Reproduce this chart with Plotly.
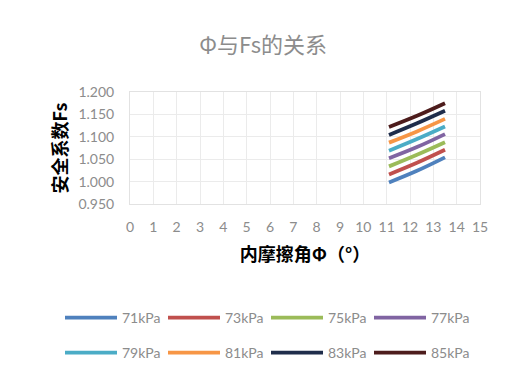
import plotly.graph_objects as go

phi = [11.1, 12.3, 13.5]
series_names = ["71kPa", "73kPa", "75kPa", "77kPa", "79kPa", "81kPa", "83kPa", "85kPa"]
fs_71 = [0.998, 1.024, 1.054]
fs_73 = [1.016, 1.042, 1.071]
fs_75 = [1.034, 1.060, 1.088]
fs_77 = [1.052, 1.077, 1.106]
fs_79 = [1.069, 1.095, 1.123]
fs_81 = [1.087, 1.112, 1.140]
fs_83 = [1.104, 1.130, 1.158]
fs_85 = [1.122, 1.147, 1.175]
series_values = [fs_71, fs_73, fs_75, fs_77, fs_79, fs_81, fs_83, fs_85]
colors = ["#4F81BD", "#C0504D", "#9BBB59", "#8064A2", "#4BACC6", "#F79646", "#1F2D4B", "#4D1C1C"]

x_ticks = list(range(0, 16))
y_ticks = [0.95, 1.0, 1.05, 1.1, 1.15, 1.2]

tick_font = dict(family="Lato, 'Noto Sans CJK SC'", size=14, color="#8C8C8C")
cjk = "'Noto Sans CJK SC', 'Noto Sans', sans-serif"

fig = go.Figure()
for i, (name, vals, c) in enumerate(zip(series_names, series_values, colors)):
    fig.add_trace(go.Scatter(
        x=phi, y=vals, name=name, mode="lines",
        line=dict(color=c, width=3.8, shape="spline"),
        legend="legend" if i < 4 else "legend2",
    ))

leg_common = dict(orientation="h", xref="paper", yref="paper", x=(60 - 130) / 350, xanchor="left",
                  yanchor="middle", entrywidth=36, entrywidthmode="pixels",
                  font=dict(family="Lato, sans-serif", size=14, color="#8C8C8C"),
                  bgcolor="rgba(0,0,0,0)", itemwidth=52)

fig.update_layout(
    width=513, height=381,
    margin=dict(l=130, r=33, t=92, b=177),
    paper_bgcolor="white", plot_bgcolor="white",
    title=dict(text="Φ与Fs的关系", x=0.513, xanchor="center", y=0.882, yanchor="middle",
               font=dict(family=cjk, size=22, color="#8C8C8C")),
    xaxis=dict(range=[0, 15], tickvals=x_ticks, ticktext=[str(v) for v in x_ticks],
               showgrid=True, gridcolor="#EBEBEB", gridwidth=1,
               zeroline=False, showline=True, linecolor="#E2E2E2", mirror=True,
               ticks="", tickfont=tick_font, ticklabelstandoff=10,
               title=dict(text="<b>内摩擦角Φ（°）</b>", font=dict(family=cjk, size=18, color="#000000"),
                          standoff=14)),
    yaxis=dict(range=[0.95, 1.2], tickvals=y_ticks, ticktext=[f"{v:.3f}" for v in y_ticks],
               showgrid=True, gridcolor="#EBEBEB", gridwidth=1,
               zeroline=False, showline=True, linecolor="#E2E2E2", mirror=True,
               ticks="", tickfont=tick_font, ticklabelstandoff=12,
               title=dict(text="<b>安全系数Fs</b>", font=dict(family=cjk, size=18, color="#000000"),
                          standoff=6)),
    legend=dict(leg_common, y=(204 - 318) / 112),
    legend2=dict(leg_common, y=(204 - 353) / 112),
    showlegend=True,
)

fig.write_html("out.html")
